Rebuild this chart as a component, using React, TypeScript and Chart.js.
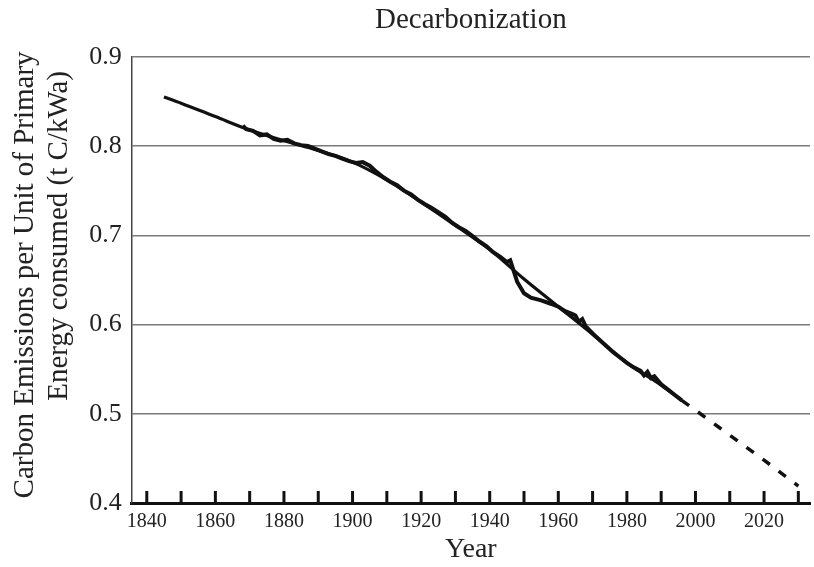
import React, { useEffect, useRef } from 'react';
import { Chart, registerables } from 'chart.js';

Chart.register(...registerables);

const FONT = "'Liberation Serif', 'Times New Roman', 'DejaVu Serif', serif";

const chartTitle = 'Decarbonization';
const xAxisTitle = 'Year';
const yAxisTitleLines = ['Carbon Emissions per Unit of Primary', 'Energy consumed (t C/kWa)'];

const xMin = 1835.6;
const xMax = 2033.4;
const xTickValues = [1840, 1850, 1860, 1870, 1880, 1890, 1900, 1910, 1920, 1930, 1940, 1950, 1960, 1970, 1980, 1990, 2000, 2010, 2020, 2030];
const xTickLabels = ['1840', '', '1860', '', '1880', '', '1900', '', '1920', '', '1940', '', '1960', '', '1980', '', '2000', '', '2020', ''];
const yMin = 0.4;
const yMax = 0.9;
const yStep = 0.1;

// Observed (noisy) carbon intensity record
const observedYears = [
  1868, 1869, 1871, 1873, 1875, 1877, 1879, 1881, 1883, 1885, 1887, 1889, 1891, 1893, 1895, 1897, 1899,
  1901, 1903, 1905, 1907, 1909, 1911, 1913, 1915, 1917, 1919, 1921, 1923, 1925, 1927, 1929, 1931, 1933,
  1935, 1937, 1939, 1941, 1943, 1945, 1946, 1948, 1950, 1952, 1955, 1958, 1960, 1962, 1964, 1965, 1966,
  1967, 1968, 1970, 1972, 1974, 1976, 1978, 1980, 1982, 1984, 1985, 1986, 1987, 1988, 1990, 1992, 1994, 1996,
];
const observedValues = [
  0.823, 0.819, 0.817, 0.812, 0.813, 0.808, 0.806, 0.807, 0.803, 0.801, 0.8, 0.797, 0.794, 0.791, 0.789, 0.786, 0.783,
  0.781, 0.782, 0.778, 0.771, 0.765, 0.76, 0.756, 0.75, 0.746, 0.74, 0.735, 0.731, 0.726, 0.721, 0.714, 0.709, 0.705,
  0.699, 0.693, 0.688, 0.681, 0.676, 0.67, 0.672, 0.648, 0.635, 0.63, 0.627, 0.623, 0.62, 0.615, 0.612, 0.61, 0.603,
  0.606, 0.598, 0.59, 0.583, 0.576, 0.569, 0.563, 0.557, 0.552, 0.548, 0.543, 0.547, 0.54, 0.542, 0.533, 0.527, 0.521, 0.515,
];

// Smooth trend, dashed beyond projectionFrom
const trendYears = [1845, 1850, 1860, 1870, 1880, 1890, 1900, 1910, 1920, 1930, 1940, 1950, 1960, 1970, 1980, 1990, 1996, 2000, 2010, 2020, 2030];
const trendValues = [0.855, 0.848, 0.833, 0.818, 0.806, 0.795, 0.782, 0.762, 0.737, 0.711, 0.684, 0.651, 0.62, 0.589, 0.557, 0.532, 0.515, 0.504, 0.476, 0.448, 0.419];
const projectionFrom = 1996;

const innerTicksPlugin = {
  id: 'innerTicks',
  afterDatasetsDraw(chart: any) {
    const x = chart.scales.x;
    const { ctx, chartArea } = chart;
    ctx.save();
    ctx.strokeStyle = '#111';
    ctx.lineWidth = 3;
    x.ticks.forEach((t: any) => {
      const px = x.getPixelForValue(t.value);
      ctx.beginPath();
      ctx.moveTo(px, chartArea.bottom);
      ctx.lineTo(px, chartArea.bottom - 12);
      ctx.stroke();
    });
    ctx.restore();
  },
};

const yTitlePlugin = {
  id: 'yTitle',
  afterDraw(chart: any) {
    const { ctx, chartArea } = chart;
    const mid = (chartArea.top + chartArea.bottom) / 2;
    ctx.save();
    ctx.fillStyle = '#222';
    ctx.font = `29px ${FONT}`;
    ctx.textAlign = 'center';
    ctx.textBaseline = 'alphabetic';
    const pos = [
      { x: 33, y: mid - 5 },
      { x: 67, y: mid - 44 },
    ];
    yAxisTitleLines.forEach((line, i) => {
      ctx.save();
      ctx.translate(pos[i].x, pos[i].y);
      ctx.rotate(-Math.PI / 2);
      ctx.fillText(line, 0, 0);
      ctx.restore();
    });
    ctx.restore();
  },
};

export default function App() {
  const canvasRef = useRef<HTMLCanvasElement | null>(null);

  useEffect(() => {
    if (!canvasRef.current) return;
    const observed = observedYears.map((yr, i) => ({ x: yr, y: observedValues[i] }));
    const trend = trendYears.map((yr, i) => ({ x: yr, y: trendValues[i] }));

    const chart = new Chart(canvasRef.current, {
      type: 'line',
      data: {
        datasets: [
          {
            label: 'Observed',
            data: observed,
            borderColor: '#111',
            borderWidth: 4,
            tension: 0,
            pointRadius: 0,
            fill: false,
          },
          {
            label: 'Trend',
            data: trend,
            borderColor: '#111',
            borderWidth: 3.2,
            cubicInterpolationMode: 'monotone',
            pointRadius: 0,
            fill: false,
            segment: {
              borderDash: (c: any) => (c.p0.parsed.x >= projectionFrom ? [9, 11] : undefined),
              borderWidth: (c: any) => (c.p0.parsed.x >= projectionFrom ? 3.5 : undefined),
            },
          },
        ],
      },
      options: {
        responsive: false,
        animation: false,
        layout: { padding: { left: 0, right: 4, top: 0, bottom: 0 } },
        plugins: {
          legend: { display: false },
          tooltip: { enabled: false },
          title: {
            display: true,
            text: chartTitle,
            fullSize: false,
            color: '#222',
            font: { family: FONT, size: 29, weight: 'normal' },
            padding: { top: 3, bottom: 19 },
          },
        },
        scales: {
          x: {
            type: 'linear',
            min: xMin,
            max: xMax,
            afterBuildTicks: (s: any) => {
              s.ticks = xTickValues.map((v) => ({ value: v }));
            },
            afterFit: (s: any) => {
              s.height = 64;
            },
            border: { display: true, color: '#111', width: 3 },
            grid: { display: true, drawOnChartArea: false, drawTicks: false },
            ticks: {
              autoSkip: false,
              maxRotation: 0,
              padding: 7,
              color: '#222',
              font: { family: FONT, size: 20 },
              callback: (v: any, i: number) => xTickLabels[i] ?? '',
            },
            title: {
              display: true,
              text: xAxisTitle,
              color: '#222',
              font: { family: FONT, size: 28 },
              padding: { top: 0, bottom: 1 },
            },
          },
          y: {
            type: 'linear',
            min: yMin,
            max: yMax,
            afterFit: (s: any) => {
              s.width = 131.7;
            },
            border: { display: true, color: '#444', width: 1.5 },
            grid: {
              drawTicks: false,
              lineWidth: 1.5,
              color: (c: any) => (c.tick && Math.abs(c.tick.value - yMin) < 1e-6 ? 'rgba(0,0,0,0)' : '#7a7a7a'),
            },
            ticks: {
              stepSize: yStep,
              padding: 10,
              color: '#222',
              font: { family: FONT, size: 26 },
              callback: (v: any) => Number(v).toFixed(1),
            },
          },
        },
      },
      plugins: [innerTicksPlugin, yTitlePlugin],
    } as any);

    return () => chart.destroy();
  }, []);

  return (
    <div style={{ position: 'fixed', left: 0, top: 0, width: 814, height: 567, background: '#fff' }}>
      <canvas ref={canvasRef} width={814} height={567} style={{ display: 'block', width: 814, height: 567 }} />
    </div>
  );
}
